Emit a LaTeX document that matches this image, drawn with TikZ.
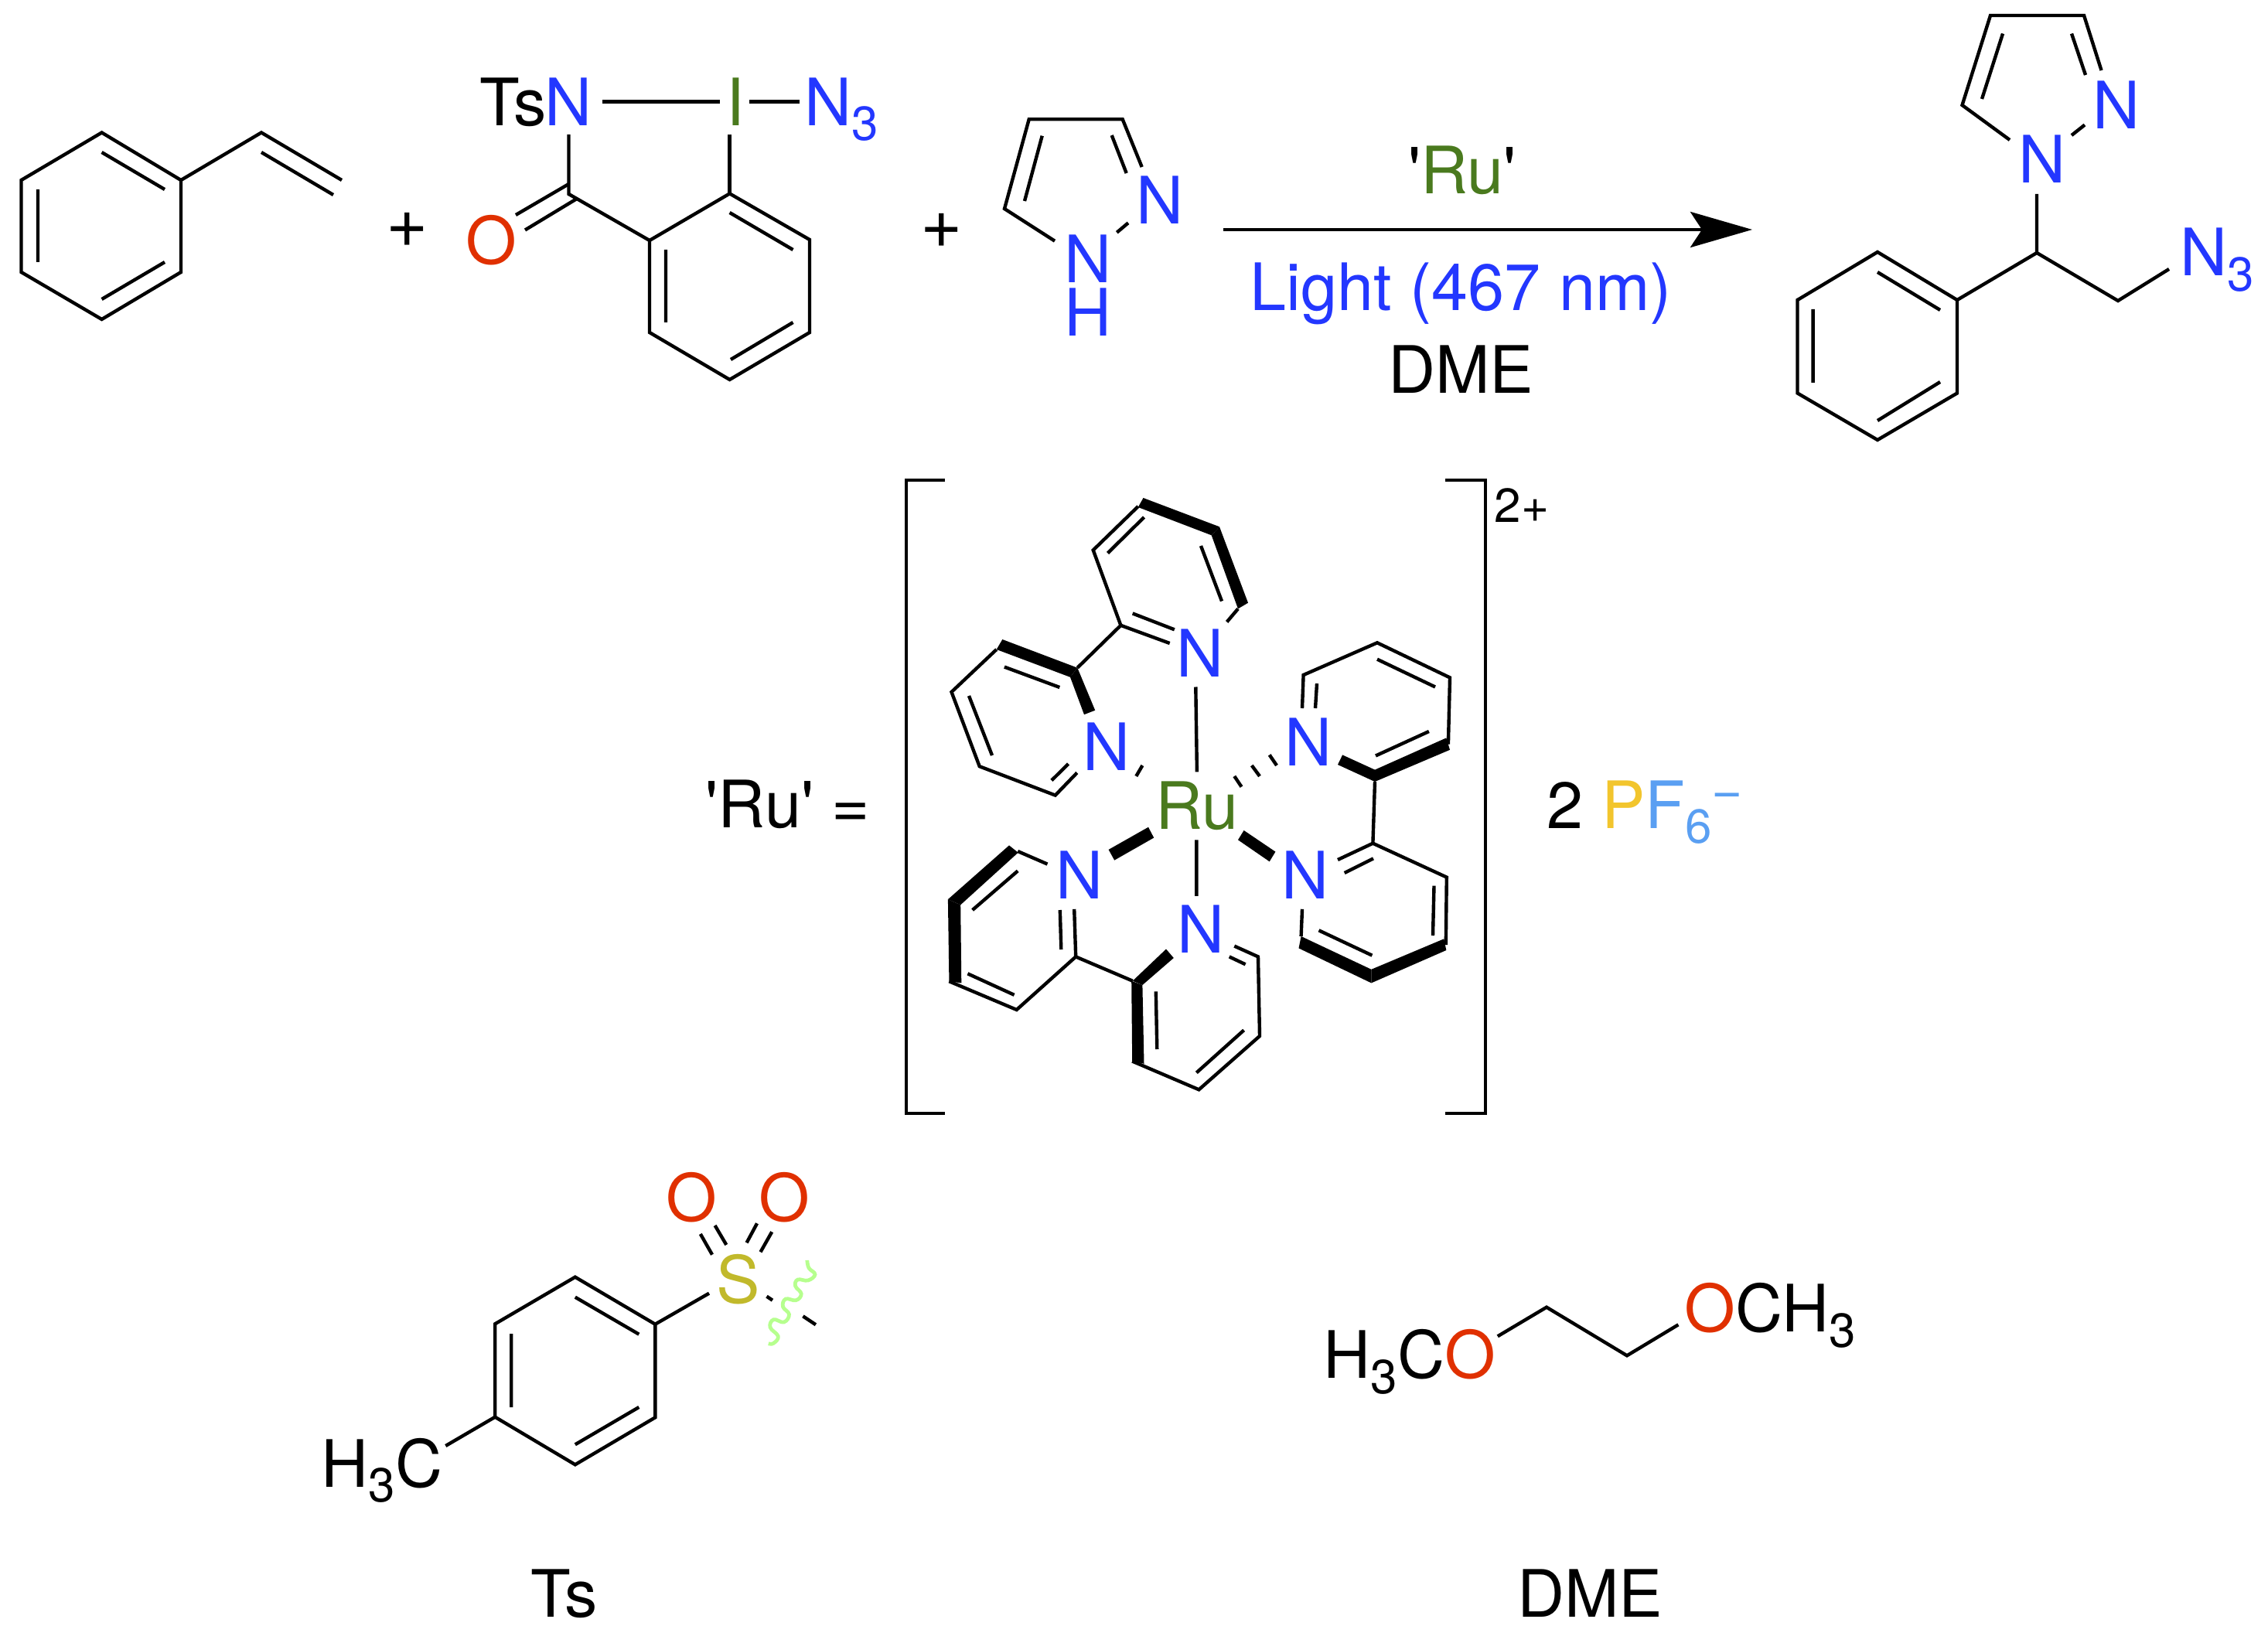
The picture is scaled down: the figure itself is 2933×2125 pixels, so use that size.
\documentclass[tikz,border=0pt]{standalone}
\usepackage{fontspec}
\usetikzlibrary{arrows.meta}
\newfontfamily\chemfont{TeX Gyre Heros}
\newcommand{\chemtext}{\chemfont\fontsize{24.05}{28}\selectfont}
\newcommand{\subnum}[1]{\lower 5.5pt\hbox{\fontsize{17.6}{18}\selectfont #1}}
\definecolor{nblue}{HTML}{2337FF}
\definecolor{ored}{HTML}{E03000}
\definecolor{rugreen}{HTML}{4A7A1E}
\definecolor{syellow}{HTML}{C1B92B}
\definecolor{porange}{HTML}{F2C52D}
\definecolor{fblue}{HTML}{5A9FF2}
\definecolor{cutgreen}{HTML}{B6FF8E}
\tikzset{
  atom/.style={inner sep=0pt, anchor=base, font=\chemtext},
  atomw/.style={atom, anchor=base west},
  natom/.style={atom, text=nblue},
  oatom/.style={atom, text=ored},
  plussign/.style={atom, font=\chemfont\fontsize{26.5}{30}\selectfont},
  bond/.style={line width=1.25pt},
  boldbond/.style={fill=black},
}
\begin{document}
\begin{tikzpicture}[x=0.01cm, y=-0.01cm]
\useasboundingbox (0,0) rectangle (2933,2125);
% Styrene
\draw[bond] (131.6,171.5) -- (234,233) -- (234,352) -- (131.6,413) -- (27.5,352) -- (27.5,233) -- cycle;
\draw[bond] (131.6,197) -- (213,245) (49,245) -- (49,339) (213,339) -- (131.6,387);
\draw[bond] (234,233) -- (338,171.5) -- (442,233) (338,197) -- (431,252);
\node[plussign] (plusa) at (526.5,319.5) {+};
% Azide reagent
\node[atomw] (ts) at (620,162.5) {Ts\kern-0.85pt\textcolor{nblue}{N}};
\node[atom, text=rugreen] (iodine) at (951,162.5) {I};
\node[atomw, text=nblue] (azidea) at (1039.6,162.5) {N\subnum{3}};
\node[oatom] (oxoa) at (635,341.5) {O};
\draw[bond] (779,131.7) -- (930.6,131.7) (969,131.7) -- (1034,131.7);
\draw[bond] (735.5,174) -- (735.5,251) -- (840,311);
\draw[bond] (735.5,238) -- (667,278) (746,257) -- (679,297.5);
\draw[bond] (943.6,174) -- (943.6,250.4);
\draw[bond] (840,311) -- (943.6,250.4) -- (1047,310) -- (1047,430) -- (943.6,491) -- (840,430) -- cycle;
\draw[bond] (943.6,275) -- (1025.5,323) (861,323) -- (861,417) (1025.5,417) -- (945,465);
\node[plussign] (plusb) at (1218,321) {+};
% Pyrazole
\node[natom] (pyrn) at (1500.3,289.3) {N};
\node[natom] (pyrnh) at (1407,365.7) {N};
\node[natom] (pyrh) at (1407,435) {H};
\draw[bond] (1364,311.7) -- (1299,270) -- (1330.7,154.3) -- (1451.7,154.3) -- (1476.7,216);
\draw[bond] (1325,260) -- (1347.7,175.7) (1456.7,224) -- (1437.7,175) (1459,288.3) -- (1444.3,300.7);
% Arrow and conditions
\coordinate (arrowstart) at (1582,297);
\coordinate (arrowend) at (2266,297);
\draw[bond, -{Stealth[length=0.8cm, width=0.46cm, inset=0.15cm]}] (arrowstart) -- (arrowend);
\node[atom] (ruabove) at (1891,251) {'\textcolor{rugreen}{Ru}'};
\node[natom] (light) at (1889,402) {Light (467 nm)};
\node[atom] (solvent) at (1889,509) {DME};
% Product
\node[natom] (prodna) at (2641,237) {N};
\node[natom] (prodnb) at (2737,166.5) {N};
\node[atomw, text=nblue] (azideb) at (2818.6,357) {N\subnum{3}};
\draw[bond] (2599,181) -- (2537.5,136) -- (2574,20) -- (2695,20) -- (2717.5,91);
\draw[bond] (2563,128) -- (2590,43.5) (2697,97) -- (2679,43.5) (2679,175) -- (2696,161.5);
\draw[bond] (2634,251) -- (2634,327) -- (2531,388) (2634,327) -- (2739,389) -- (2805,348);
\draw[bond] (2428,326) -- (2531,388) -- (2531,508.5) -- (2428,569) -- (2324.5,508.5) -- (2324.5,388) -- cycle;
\draw[bond] (2428,352) -- (2509,401) (2344.6,400) -- (2344.6,495) (2509,494) -- (2428,544);
% Brackets and charges
\node[atomw] (rulabel) at (912,1070.7) {'Ru' =};
\draw[bond] (1222,621) -- (1172,621) -- (1172,1440) -- (1222,1440);
\draw[bond] (1869,621) -- (1921,621) -- (1921,1440) -- (1869,1440);
\node[atomw, font=\chemfont\fontsize{17.6}{18}\selectfont] (charge) at (1932,676) {2+};
\node[atomw] (counter) at (2000,1071) {2 \textcolor{porange}{P}\textcolor{fblue}{F\subnum{6}\raise 7.2pt\hbox{\fontsize{19.6}{20}\selectfont −}}};
% Metal centre
\node[atom, text=rugreen] (ru) at (1548,1072.5) {Ru};
\node[natom] (na) at (1552,875) {N};
\node[natom] (nb) at (1431,996.7) {N};
\node[natom] (nc) at (1691.6,990) {N};
\node[natom] (nd) at (1688,1162) {N};
\node[natom] (ne) at (1552.8,1232) {N};
\node[natom] (nf) at (1395.6,1162) {N};
\draw[bond] (1546.3,888.5) -- (1547.9,998.4) (1547.3,1086.3) -- (1547.3,1158.8) (1477.4,990) -- (1469.3,1003.9);
\draw[bond] (1596.3,1003.9) -- (1605.5,1017.6) (1618.8,990) -- (1629,1003.9) (1641.7,976.4) -- (1651,990);
\fill[boldbond] (1608.6,1074) -- (1649.4,1101.6) -- (1641.7,1114.3) -- (1601,1086.3) -- cycle;
\fill[boldbond] (1485,1069.8) -- (1492.2,1083.5) -- (1441.2,1112.6) -- (1433.6,1098.9) -- cycle;
% Top ring
\fill[boldbond] (1478.5,644) -- (1577,681.3) -- (1566.7,692.3) -- (1471.8,656) -- cycle;
\fill[boldbond] (1577,681.3) -- (1614,779.7) -- (1601,787.4) -- (1566.7,692.3) -- cycle;
\draw[bond] (1586.6,804.4) -- (1601,787.4) (1471.8,655) -- (1413.7,711.5) -- (1449.4,808.8) -- (1393.3,863.7);
\draw[bond] (1479.5,669) -- (1432.5,715.4) (1553,706) -- (1580,777.5);
\draw[bond] (1449.4,808.8) -- (1512.7,832) (1464.7,793.4) -- (1518.8,814.3);
% Upper left ring
\fill[boldbond] (1296.3,827) -- (1393.3,863.7) -- (1384,875.8) -- (1288.7,840) -- cycle;
\fill[boldbond] (1393.3,863.7) -- (1416.2,918.7) -- (1402,924.2) -- (1384,875.8) -- cycle;
\draw[bond] (1288.7,840) -- (1230.5,895) -- (1266.7,991.2) -- (1364.7,1028.6) -- (1392.8,999.5);
\draw[bond] (1298.9,862.6) -- (1370.3,889) (1253,900) -- (1283,977) (1360,1009.3) -- (1381.5,988);
% Upper right ring
\fill[boldbond] (1736.1,976.4) -- (1778,995.6) -- (1778,1011) -- (1730,989) -- cycle;
\fill[boldbond] (1778,995.6) -- (1870.3,954.4) -- (1875,969.8) -- (1778,1011) -- cycle;
\draw[bond] (1872.9,962.6) -- (1875,876.4) -- (1781,831.3) -- (1685.6,873) -- (1684,916);
\draw[bond] (1703,884) -- (1701,916) (1781,852.7) -- (1856,888.5) (1847.9,946) -- (1779,977.5);
\draw[bond] (1778,1011) -- (1775.4,1090.7);
% Lower right ring
\draw[bond] (1730,1112) -- (1775.4,1090.7) -- (1870.8,1134.6) -- (1869.8,1222);
\draw[bond] (1738.7,1129) -- (1776,1110.4) (1854.5,1145.6) -- (1853,1210) (1705.5,1203.3) -- (1774.4,1235.7);
\fill[boldbond] (1867.3,1214.3) -- (1870.3,1229) -- (1773.4,1271.4) -- (1773.4,1253.8) -- cycle;
\fill[boldbond] (1773.4,1253.8) -- (1773.4,1271.4) -- (1679.5,1226.4) -- (1682.6,1211) -- cycle;
\draw[bond] (1682.6,1211) -- (1684,1175.8);
% Lower left ring
\fill[boldbond] (1305,1093.4) -- (1316.7,1102.7) -- (1242.2,1170.3) -- (1225.9,1163.2) -- cycle;
\fill[boldbond] (1225.9,1163.2) -- (1242.2,1170.3) -- (1243.3,1271.4) -- (1227.4,1269.2) -- cycle;
\draw[bond] (1354.5,1117.6) -- (1316.2,1101) (1227.4,1269.2) -- (1314.7,1306) -- (1391.2,1237.4) -- (1389.2,1175.8);
\draw[bond] (1372.3,1228) -- (1370.8,1177) (1257.6,1177) -- (1316.2,1126.4) (1251.4,1259.3) -- (1311.6,1286.8);
\draw[bond] (1391.2,1237.4) -- (1464.7,1268.7);
% Bottom ring
\fill[boldbond] (1508,1227.5) -- (1517.8,1239) -- (1477.4,1274) -- (1464.7,1268.7) -- cycle;
\fill[boldbond] (1463.2,1268.7) -- (1477.4,1274) -- (1479.5,1375.8) -- (1464.2,1372.5) -- cycle;
\draw[bond] (1464.2,1372.5) -- (1550.4,1409.3) -- (1629,1340) -- (1627,1237.4) -- (1596.3,1223.6);
\draw[bond] (1610.6,1247.3) -- (1589.7,1237.4) (1494.8,1282.4) -- (1496.3,1357) (1608.6,1332.4) -- (1547.3,1387.4);
% Tosyl
\node[atomw] (meleft) at (415,1923.3) {H\subnum{3}C};
\node[atom, text=syellow] (sulfur) at (955,1685) {S};
\node[oatom] (oxob) at (894.6,1579) {O};
\node[oatom] (oxoc) at (1014.7,1579) {O};
\draw[bond] (743.8,1651.7) -- (847.3,1712.7) -- (847.3,1833.3) -- (743.8,1894.3) -- (640.2,1832.7) -- (640.2,1712.3) -- cycle;
\draw[bond] (743.8,1677.7) -- (826.3,1725.7) (661.2,1725) -- (661.2,1820) (826.3,1820) -- (743.8,1868.3);
\draw[bond] (640.2,1832.7) -- (576.3,1870) (847.3,1712.7) -- (917,1672.7);
\draw[bond] (905.8,1596) -- (921,1622.7) (924.6,1585) -- (939.3,1610) (979,1582.3) -- (965.6,1607.3) (998.2,1593.3) -- (983.5,1619.3);
\draw[bond] (991.5,1676.7) -- (999,1681.7) (1038.4,1702.3) -- (1054.9,1713.3);
\draw[cutgreen, line width=1.35pt] plot[smooth, tension=0.7] coordinates {(1043.8,1630) (1046,1640) (1054,1648.3) (1045,1656) (1031.7,1655) (1028.6,1663.3) (1036.2,1673.3) (1029.5,1681.7) (1016,1680) (1012.5,1690) (1020.5,1700) (1013.8,1710) (1000.4,1706.7) (996,1716.7) (1006.3,1728.3) (1000.4,1737.3) (993.8,1737.7)};
\node[atom] (tslabel) at (729.7,2091.7) {Ts};
% DME
\node[atomw] (dmeleft) at (1711,1782.7) {H\subnum{3}C\textcolor{ored}{O}};
\node[atomw] (dmeright) at (2177.5,1722.7) {\textcolor{ored}{O}CH\subnum{3}};
\draw[bond] (1936.8,1728.3) -- (2000,1690.7) -- (2104,1753.3) -- (2170.4,1713.3);
\node[atom] (dmelabel) at (2056,2091.7) {DME};
\end{tikzpicture}
\end{document}
